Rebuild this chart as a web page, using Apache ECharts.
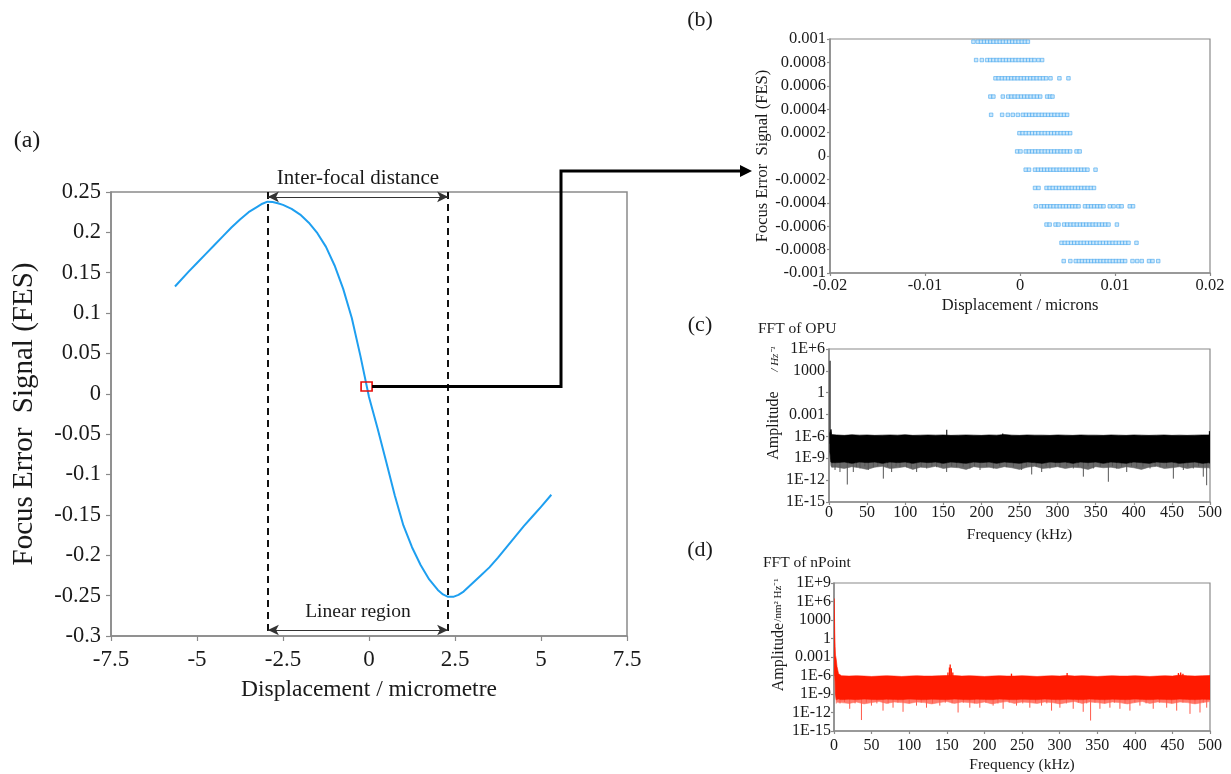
<!DOCTYPE html>
<html>
<head>
<meta charset="utf-8">
<script src="https://cdn.jsdelivr.net/npm/echarts@6/dist/echarts.min.js"></script>
<style>
html,body{margin:0;padding:0;background:#fff;}
#main{width:1231px;height:774px;}
</style>
</head>
<body>
<div id="main"></div>
<script>
// ---------- Panel (a): FES curve ----------
const curveX = [-5.64, -5.25, -5.0, -4.75, -4.5, -4.25, -4.0, -3.75, -3.5, -3.25, -3.1, -2.95, -2.8, -2.65, -2.5, -2.25, -2.0, -1.75, -1.5, -1.25, -1.0, -0.75, -0.5, -0.25, 0, 0.25, 0.5, 0.75, 1.0, 1.25, 1.5, 1.75, 2.0, 2.15, 2.3, 2.45, 2.6, 2.75, 3.0, 3.25, 3.5, 3.75, 4.0, 4.25, 4.5, 4.75, 5.0, 5.3];
const curveY = [0.133, 0.151, 0.162, 0.173, 0.184, 0.195, 0.206, 0.216, 0.225, 0.2315, 0.2355, 0.238, 0.2375, 0.236, 0.234, 0.229, 0.222, 0.212, 0.199, 0.182, 0.159, 0.13, 0.094, 0.047, -0.004, -0.043, -0.084, -0.126, -0.163, -0.19, -0.212, -0.23, -0.243, -0.2485, -0.2515, -0.2515, -0.249, -0.245, -0.235, -0.225, -0.215, -0.203, -0.19, -0.177, -0.164, -0.152, -0.14, -0.125];
const peakX = -2.94, valleyX = 2.3;
const zoomPoint = [-0.07, 0.009];

// ---------- Panel (b): FES vs displacement (zoomed) ----------
const fesLevels = [0.000977, 0.00082, 0.000664, 0.000508, 0.000352, 0.000195, 0.000039, -0.000117, -0.000273, -0.00043, -0.000586, -0.000742, -0.000898];
const dispRows = [
  [-0.0049, -0.00444, -0.00411, -0.00378, -0.00345, -0.00312, -0.00279, -0.00246, -0.00213, -0.0018, -0.00147, -0.00114, -0.00081, -0.00048, -0.00015, 0.00018, 0.00051, 0.00083],
  [-0.00462, -0.00402, -0.00346, -0.00313, -0.0028, -0.00246, -0.00213, -0.0018, -0.00147, -0.00114, -0.0008, -0.00047, -0.00014, 0.00019, 0.00052, 0.00086, 0.00119, 0.00152, 0.00194, 0.00233],
  [-0.00258, -0.00225, -0.00191, -0.00158, -0.00125, -0.00091, -0.00058, -0.00025, 0.00009, 0.00042, 0.00075, 0.00109, 0.00142, 0.00175, 0.00209, 0.00242, 0.00275, 0.00321, 0.00415, 0.0051],
  [-0.00312, -0.0028, -0.00181, -0.00124, -0.0009, -0.00056, -0.00023, 0.00011, 0.00045, 0.00078, 0.00112, 0.00146, 0.00179, 0.00213, 0.00286, 0.00316, 0.00342],
  [-0.00304, -0.00188, -0.00128, -0.00076, -0.00023, 0.0003, 0.00063, 0.00097, 0.0013, 0.00163, 0.00197, 0.0023, 0.00263, 0.00296, 0.0033, 0.00363, 0.00396, 0.0043, 0.00463, 0.00496],
  [-0.00006, 0.00027, 0.00061, 0.00094, 0.00128, 0.00161, 0.00194, 0.00228, 0.00261, 0.00294, 0.00328, 0.00361, 0.00394, 0.00428, 0.00461, 0.00495, 0.00528],
  [-0.0003, 0.00005, 0.00061, 0.00094, 0.00128, 0.00161, 0.00194, 0.00228, 0.00261, 0.00294, 0.00328, 0.00361, 0.00394, 0.00428, 0.00461, 0.00494, 0.00528, 0.00595, 0.00628],
  [0.0006, 0.00095, 0.00158, 0.0019, 0.00223, 0.00255, 0.00288, 0.0032, 0.00353, 0.00385, 0.00418, 0.0045, 0.00483, 0.00515, 0.00548, 0.0058, 0.00613, 0.00645, 0.00678, 0.0071, 0.00795],
  [0.00158, 0.00195, 0.00279, 0.00312, 0.00345, 0.00379, 0.00412, 0.00445, 0.00479, 0.00512, 0.00545, 0.00579, 0.00612, 0.00645, 0.00679, 0.00712, 0.00745, 0.00779],
  [0.00166, 0.00221, 0.00254, 0.00287, 0.0032, 0.00353, 0.00386, 0.00419, 0.00452, 0.00485, 0.00518, 0.00551, 0.00584, 0.00616, 0.00684, 0.00716, 0.00749, 0.00781, 0.00814, 0.00846, 0.00879, 0.00945, 0.00985, 0.01035, 0.0107, 0.01155, 0.0119],
  [0.00279, 0.00312, 0.00374, 0.00405, 0.00465, 0.00498, 0.00532, 0.00565, 0.00598, 0.00632, 0.00665, 0.00698, 0.00732, 0.00765, 0.00798, 0.00832, 0.00865, 0.00898, 0.00932, 0.0102],
  [0.00437, 0.00471, 0.00504, 0.00538, 0.00571, 0.00605, 0.00639, 0.00672, 0.00706, 0.0074, 0.00773, 0.00807, 0.0084, 0.00874, 0.00908, 0.00941, 0.00975, 0.01008, 0.01042, 0.01075, 0.01109, 0.01142, 0.01226],
  [0.0046, 0.0053, 0.00587, 0.0062, 0.00652, 0.00685, 0.00717, 0.0075, 0.00782, 0.00815, 0.00847, 0.0088, 0.00912, 0.00945, 0.00977, 0.0101, 0.01042, 0.01075, 0.01107, 0.01184, 0.01234, 0.01282, 0.01358, 0.01395, 0.01455]
];

// ---------- Panel (c): FFT of OPU (noise band envelopes + spikes) ----------
const opuFreq = [1, 2.5, 3.5,
  10, 20, 30, 40, 50, 60, 70, 80, 90, 100,
  110, 120, 130, 140, 150, 160, 170, 180, 190, 200,
  210, 220, 230, 240, 250, 260, 270, 280, 290, 300,
  310, 320, 330, 340, 350, 360, 370, 380, 390, 400,
  410, 420, 430, 440, 450, 460, 470, 480, 490,
  499, 500];
const opuTop = [3e-6, 8e-6, 1.8e-6,
  1.6e-6, 1.4e-6, 1.7e-6, 1.5e-6, 1.6e-6, 1.4e-6, 1.5e-6, 1.6e-6, 1.5e-6, 1.7e-6,
  1.4e-6, 1.5e-6, 1.6e-6, 1.5e-6, 1.6e-6, 1.4e-6, 1.5e-6, 1.6e-6, 1.5e-6, 1.4e-6,
  1.6e-6, 1.5e-6, 1.8e-6, 1.5e-6, 1.4e-6, 1.6e-6, 1.5e-6, 1.5e-6, 1.4e-6, 1.6e-6,
  1.5e-6, 1.4e-6, 1.6e-6, 1.5e-6, 1.5e-6, 1.4e-6, 1.6e-6, 1.5e-6, 1.4e-6, 1.6e-6,
  1.5e-6, 1.4e-6, 1.5e-6, 1.6e-6, 1.4e-6, 1.5e-6, 1.4e-6, 1.5e-6, 1.6e-6,
  1.6e-6, 4e-6];
const opuBot = [1e-8, 3e-10, 2.5e-10,
  2.5e-10, 3e-10, 2e-10, 3e-10, 2.5e-10, 3e-10, 2e-10, 3e-10, 2.5e-10, 3e-10,
  2e-10, 3e-10, 2.5e-10, 3e-10, 2e-10, 3e-10, 2.5e-10, 2e-10, 3e-10, 2.5e-10,
  3e-10, 2e-10, 3e-10, 2.5e-10, 2e-10, 3e-10, 2.5e-10, 2e-10, 3e-10, 2.5e-10,
  3e-10, 2e-10, 3e-10, 2.5e-10, 3e-10, 2e-10, 3e-10, 2.5e-10, 2e-10, 3e-10,
  2.5e-10, 2e-10, 3e-10, 2.5e-10, 3e-10, 2e-10, 2.5e-10, 3e-10, 2e-10,
  2.5e-10, 2e-10];
const opuFringe = [1e-8, 1e-10, 6e-11,
  6e-11, 4e-11, 7e-11, 5e-11, 3e-11, 6e-11, 8e-11, 4e-11, 5e-11, 7e-11,
  3e-11, 6e-11, 5e-11, 8e-11, 4e-11, 6e-11, 5e-11, 3e-11, 7e-11, 5e-11,
  6e-11, 4e-11, 7e-11, 5e-11, 3e-11, 6e-11, 8e-11, 4e-11, 5e-11, 7e-11,
  4e-11, 6e-11, 5e-11, 3e-11, 7e-11, 5e-11, 6e-11, 4e-11, 7e-11, 5e-11,
  3e-11, 6e-11, 8e-11, 4e-11, 5e-11, 7e-11, 4e-11, 6e-11, 5e-11,
  5e-11, 4e-11];
const opuDownSpikes = [[4, 6e-11], [7.9, 2.5e-11], [14.4, 1.3e-11], [24, 2.5e-13], [31.9, 1.3e-11], [36, 6e-11], [40.7, 4e-11], [47, 8e-11], [51.6, 2.5e-11], [58.2, 6e-11], [64, 8e-11], [71.3, 1.6e-12], [77, 7e-11], [82.2, 1.3e-11], [88, 8e-11], [93.2, 6e-11], [101.9, 6e-11], [108, 5e-11], [115, 1.3e-11], [121, 7e-11], [128.2, 4e-11], [135, 8e-11], [141.3, 6e-11], [148, 7e-11], [154.4, 1.3e-11], [161, 8e-11], [167.5, 6e-11], [176, 7e-11], [185, 4e-11], [191, 8e-11], [198.2, 2.5e-11], [207, 7e-11], [215.7, 4e-11], [224, 8e-11], [233.2, 6e-11], [242, 7e-11], [252.8, 2.5e-11], [259, 8e-11], [266, 6e-12], [272, 7e-11], [279.1, 1.3e-11], [285, 8e-11], [290, 4e-11], [297, 7e-11], [303.1, 6e-11], [312, 8e-11], [320.6, 4e-11], [327, 7e-11], [333.8, 3e-12], [340, 8e-11], [346.9, 4e-11], [356, 7e-11], [366.6, 6e-13], [372, 8e-11], [377.5, 4e-11], [384, 7e-11], [390.7, 1.3e-11], [397, 8e-11], [403.8, 6e-11], [412, 7e-11], [421.3, 4e-11], [428, 8e-11], [434.4, 6e-11], [443, 7e-11], [451.9, 1.6e-12], [458, 8e-11], [465, 2.5e-11], [471, 7e-11], [478.1, 4e-11], [485, 8e-11], [491.2, 3e-12], [495.6, 2e-13]];
const opuUpSpikes = [[1.4, 2.5e4], [2.6, 1e-5], [154.5, 8e-6], [228, 2.5e-6], [499.3, 5.5e-6]];

// ---------- Panel (d): FFT of nPoint ----------
const npFreq = [0.2, 0.6, 1, 1.5, 2, 3, 4, 6, 10, 20,
  30, 40, 50, 60, 70, 80, 90, 100, 110, 120,
  130, 140, 150, 160, 170, 180, 190, 200, 210, 220,
  230, 240, 250, 260, 270, 280, 290, 300, 310, 320,
  330, 340, 350, 360, 370, 380, 390, 400, 410, 420,
  430, 440, 450, 460, 470, 480, 490, 500];
const npTop = [3e6, 1e4, 10, 5e-2, 2e-3, 4e-4, 3e-5, 2e-6, 9e-7, 8e-7,
  9e-7, 8e-7, 7e-7, 8e-7, 9e-7, 8e-7, 7e-7, 8e-7, 9e-7, 8e-7,
  8e-7, 9e-7, 1e-6, 1e-6, 8e-7, 9e-7, 8e-7, 7e-7, 8e-7, 9e-7,
  8e-7, 8e-7, 9e-7, 8e-7, 7e-7, 8e-7, 9e-7, 8e-7, 1e-6, 8e-7,
  9e-7, 8e-7, 7e-7, 8e-7, 9e-7, 8e-7, 8e-7, 9e-7, 8e-7, 7e-7,
  8e-7, 9e-7, 8e-7, 1.2e-6, 9e-7, 8e-7, 9e-7, 1e-6];
const npBot = [1e-5, 1e-6, 1e-6, 1e-7, 1e-9, 1.2e-10, 1.3e-10, 1.5e-10, 1.2e-10, 1.4e-10,
  1.2e-10, 1.5e-10, 1.3e-10, 1.2e-10, 1.4e-10, 1.3e-10, 1.2e-10, 1.5e-10, 1.3e-10, 1.2e-10,
  1.4e-10, 1.3e-10, 1.2e-10, 1.5e-10, 1.3e-10, 1.2e-10, 1.4e-10, 1.3e-10, 1.2e-10, 1.5e-10,
  1.3e-10, 1.2e-10, 1.4e-10, 1.3e-10, 1.2e-10, 1.5e-10, 1.3e-10, 1.2e-10, 1.4e-10, 1.3e-10,
  1.2e-10, 1.5e-10, 1.3e-10, 1.2e-10, 1.4e-10, 1.3e-10, 1.2e-10, 1.5e-10, 1.3e-10, 1.2e-10,
  1.4e-10, 1.3e-10, 1.2e-10, 1.5e-10, 1.3e-10, 1.2e-10, 1.4e-10, 1.3e-10];
const npFringe = [1e-5, 1e-6, 1e-6, 1e-7, 1e-9, 3e-11, 5e-11, 4e-11, 4e-11, 3e-11,
  5e-11, 2.5e-11, 4e-11, 6e-11, 3e-11, 5e-11, 4e-11, 3e-11, 5e-11, 4e-11,
  2.5e-11, 4e-11, 6e-11, 3e-11, 5e-11, 4e-11, 3e-11, 5e-11, 2.5e-11, 4e-11,
  6e-11, 3e-11, 5e-11, 4e-11, 3e-11, 5e-11, 4e-11, 2.5e-11, 4e-11, 6e-11,
  3e-11, 5e-11, 4e-11, 3e-11, 5e-11, 4e-11, 2.5e-11, 4e-11, 6e-11, 3e-11,
  5e-11, 4e-11, 3e-11, 5e-11, 4e-11, 2.5e-11, 4e-11, 6e-11];
const npDownSpikes = [[8, 3e-11], [14, 5e-11], [20.9, 4e-12], [28, 3e-11], [36.5, 6e-14], [43, 4e-11], [49.8, 1.3e-11], [57, 3e-11], [65.2, 2e-12], [72, 3e-11], [78.5, 6e-12], [85, 4e-11], [91.8, 1.3e-12], [100, 3e-11], [109.7, 1.3e-11], [116, 4e-11], [123, 6e-12], [131, 3e-11], [140.7, 1.3e-11], [148, 4e-11], [157, 3e-11], [165, 1e-12], [172, 4e-11], [180.6, 6e-12], [187, 3e-11], [193.9, 6e-12], [202, 4e-11], [211.6, 1.3e-11], [218, 3e-11], [224.9, 4e-12], [233, 4e-11], [242.7, 1.3e-11], [251, 3e-11], [260.4, 6e-12], [268, 4e-11], [276, 1.3e-11], [283, 3e-11], [289.3, 2e-12], [295, 4e-11], [300.4, 6e-12], [309, 3e-11], [318.1, 4e-12], [325, 4e-11], [331.4, 1.3e-12], [336, 3e-11], [341.2, 5e-14], [347, 4e-11], [353.6, 4e-12], [360, 3e-11], [366.9, 6e-12], [373, 4e-11], [380.2, 4e-12], [387, 3e-11], [393.5, 2e-12], [400, 4e-11], [406.8, 1.3e-11], [415, 3e-11], [424.5, 4e-12], [433, 4e-11], [442.4, 6e-12], [449, 3e-11], [455.7, 2e-12], [464, 4e-11], [473.4, 6e-13], [480, 3e-11], [486.7, 1e-12], [491, 4e-11], [495.6, 6e-12]];
const npUpSpikes = [[151.5, 3e-6], [153.5, 2e-5], [154.5, 6e-5], [156, 1.5e-5], [158, 3e-6], [310, 2.5e-6], [236, 2e-6], [458, 2.5e-6], [461, 3e-6], [464, 2e-6]];

// ---------- Tick labels ----------
const opuTickExp = [-15, -12, -9, -6, -3, 0, 3, 6];
const opuTickText = ['1E-15', '1E-12', '1E-9', '1E-6', '0.001', '1', '1000', '1E+6'];
const npTickExp = [-15, -12, -9, -6, -3, 0, 3, 6, 9];
const npTickText = ['1E-15', '1E-12', '1E-9', '1E-6', '0.001', '1', '1000', '1E+6', '1E+9'];

// ---------- Chart ----------
const FONT = "'Liberation Serif','Times New Roman',serif";
const TXT = '#1a1a1a';
const GRAY = '#8a8a8a';
const chart = echarts.init(document.getElementById('main'), null, {renderer: 'canvas'});

function logFmt(exps, texts) {
  return function (v) {
    const e = Math.round(Math.log10(v));
    const i = exps.indexOf(e);
    return i >= 0 ? texts[i] : '';
  };
}
function axisBase(tickLen) {
  return {
    axisLine: {show: true, onZero: false, lineStyle: {color: GRAY, width: 1.5}},
    axisTick: {show: true, inside: false, length: tickLen, lineStyle: {color: GRAY, width: 1.2}},
    splitLine: {show: false}
  };
}
function bandRender(freq, top, bot, fill) {
  return function (params, api) {
    const pts = [];
    for (let i = 0; i < freq.length; i++) pts.push(api.coord([freq[i], top[i]]));
    for (let i = freq.length - 1; i >= 0; i--) pts.push(api.coord([freq[i], bot[i]]));
    return {type: 'polygon', shape: {points: pts}, style: {fill: fill, stroke: fill, lineWidth: 0.6}};
  };
}
function spikeRender(base, color, w) {
  return function (params, api) {
    const a = api.coord([api.value(0), base]);
    const b = api.coord([api.value(0), api.value(1)]);
    return {type: 'line', shape: {x1: a[0], y1: a[1], x2: b[0], y2: b[1]}, style: {stroke: color, lineWidth: w}};
  };
}

const curveData = curveX.map((x, i) => [x, curveY[i]]);
const scatterData = [];
dispRows.forEach((row, r) => row.forEach(x => scatterData.push([x, fesLevels[r]])));

const option = {
  animation: false,
  backgroundColor: '#fff',
  textStyle: {fontFamily: FONT, color: TXT},
  grid: [
    {left: 111, top: 192, width: 516, height: 444, show: true, borderColor: GRAY, borderWidth: 1.5, backgroundColor: 'transparent'},
    {left: 830, top: 39, width: 380, height: 234, show: true, borderColor: GRAY, borderWidth: 1.2, backgroundColor: 'transparent'},
    {left: 829, top: 349, width: 381, height: 153, show: true, borderColor: GRAY, borderWidth: 1.2, backgroundColor: 'transparent'},
    {left: 834, top: 583, width: 376, height: 149, show: true, borderColor: GRAY, borderWidth: 1.2, backgroundColor: 'transparent'}
  ],
  xAxis: [
    Object.assign(axisBase(5), {gridIndex: 0, type: 'value', min: -7.5, max: 7.5, interval: 2.5,
      axisLabel: {fontFamily: FONT, fontSize: 23, color: TXT, margin: 12},
      name: 'Displacement / micrometre', nameLocation: 'middle', nameGap: 42,
      nameTextStyle: {fontFamily: FONT, fontSize: 23.5, color: TXT}}),
    Object.assign(axisBase(3), {gridIndex: 1, type: 'value', min: -0.02, max: 0.02, interval: 0.01,
      axisLabel: {fontFamily: FONT, fontSize: 16.5, color: TXT, margin: 4},
      name: 'Displacement / microns', nameLocation: 'middle', nameGap: 24,
      nameTextStyle: {fontFamily: FONT, fontSize: 16.5, color: TXT}}),
    Object.assign(axisBase(3), {gridIndex: 2, type: 'value', min: 0, max: 500, interval: 50,
      axisLabel: {fontFamily: FONT, fontSize: 16, color: TXT, margin: 3},
      name: 'Frequency (kHz)', nameLocation: 'middle', nameGap: 25,
      nameTextStyle: {fontFamily: FONT, fontSize: 15.5, color: TXT}}),
    Object.assign(axisBase(3), {gridIndex: 3, type: 'value', min: 0, max: 500, interval: 50,
      axisLabel: {fontFamily: FONT, fontSize: 16, color: TXT, margin: 7},
      name: 'Frequency (kHz)', nameLocation: 'middle', nameGap: 26,
      nameTextStyle: {fontFamily: FONT, fontSize: 15.5, color: TXT}})
  ],
  yAxis: [
    Object.assign(axisBase(5), {gridIndex: 0, type: 'value', min: -0.3, max: 0.25, interval: 0.05,
      axisLabel: {fontFamily: FONT, fontSize: 22.5, color: TXT, margin: 10},
      name: 'Focus Error  Signal (FES)', nameLocation: 'middle', nameGap: 72,
      nameTextStyle: {fontFamily: FONT, fontSize: 29, color: TXT}}),
    Object.assign(axisBase(3), {gridIndex: 1, type: 'value', min: -0.001, max: 0.001, interval: 0.0002,
      axisLabel: {fontFamily: FONT, fontSize: 16.5, color: TXT, margin: 4},
      name: 'Focus Error  Signal (FES)', nameLocation: 'middle', nameGap: 56,
      nameTextStyle: {fontFamily: FONT, fontSize: 16.5, color: TXT}}),
    Object.assign(axisBase(3), {gridIndex: 2, type: 'log', logBase: 1000, min: 1e-15, max: 1e6, splitNumber: 8,
      axisLabel: {fontFamily: FONT, fontSize: 16, color: TXT, margin: 4, formatter: logFmt(opuTickExp, opuTickText)},
      minorTick: {show: false},
      name: 'Amplitude', nameLocation: 'middle', nameGap: 47,
      nameTextStyle: {fontFamily: FONT, fontSize: 16, color: TXT}}),
    Object.assign(axisBase(3), {gridIndex: 3, type: 'log', logBase: 1000, min: 1e-15, max: 1e9, splitNumber: 9,
      axisLabel: {fontFamily: FONT, fontSize: 16, color: TXT, margin: 3, formatter: logFmt(npTickExp, npTickText)},
      minorTick: {show: false},
      name: 'Amplitude', nameLocation: 'middle', nameGap: 47,
      nameTextStyle: {fontFamily: FONT, fontSize: 16, color: TXT}})
  ],
  series: [
    {
      type: 'line', xAxisIndex: 0, yAxisIndex: 0, data: curveData, smooth: false, showSymbol: false,
      lineStyle: {color: '#1e9ff0', width: 2, join: 'round'}, z: 3,
      markLine: {
        silent: true, symbol: 'none', animation: false,
        lineStyle: {color: '#111', width: 2, type: [7, 5]},
        label: {show: false},
        data: [
          [{coord: [peakX, 0.25]}, {coord: [peakX, -0.3]}],
          [{coord: [valleyX, 0.25]}, {coord: [valleyX, -0.3]}],
          [{coord: [peakX, 0.244], symbol: 'arrow', symbolSize: [8, 11],
            lineStyle: {type: 'solid', width: 1, color: '#333'},
            label: {show: true, position: 'insideMiddleTop', distance: 8, formatter: 'Inter-focal distance', fontFamily: FONT, fontSize: 21, color: TXT}},
           {coord: [valleyX, 0.244], symbol: 'arrow', symbolSize: [8, 11]}],
          [{coord: [peakX, -0.2926], symbol: 'arrow', symbolSize: [8, 11],
            lineStyle: {type: 'solid', width: 1, color: '#333'},
            label: {show: true, position: 'insideMiddleTop', distance: 8, formatter: 'Linear region', fontFamily: FONT, fontSize: 19.5, color: TXT}},
           {coord: [valleyX, -0.2926], symbol: 'arrow', symbolSize: [8, 11]}]
        ]
      },
      markPoint: {
        silent: true, symbol: 'rect', symbolSize: [11, 9], label: {show: false},
        itemStyle: {color: 'rgba(255,255,255,0)', borderColor: '#e8100c', borderWidth: 1.5},
        data: [{coord: zoomPoint}]
      }
    },
    {
      type: 'scatter', xAxisIndex: 1, yAxisIndex: 1, data: scatterData, symbol: 'rect', symbolSize: 3.5,
      itemStyle: {color: '#bfe2fa', borderColor: '#4aa9ef', borderWidth: 0.8}
    },
    {
      type: 'custom', xAxisIndex: 2, yAxisIndex: 2, data: [[250, 1e-8]], clip: true,
      renderItem: bandRender(opuFreq, opuBot, opuFringe, '#6a6a6a'), z: 2
    },
    {
      type: 'custom', xAxisIndex: 2, yAxisIndex: 2, data: [[250, 1e-8]], clip: true,
      renderItem: bandRender(opuFreq, opuTop, opuBot, '#000'), z: 3
    },
    {
      type: 'custom', xAxisIndex: 2, yAxisIndex: 2, data: opuDownSpikes, clip: true,
      renderItem: spikeRender(1e-9, '#555', 1), z: 2
    },
    {
      type: 'custom', xAxisIndex: 2, yAxisIndex: 2, data: opuUpSpikes, clip: true,
      renderItem: spikeRender(1e-7, '#222', 1.2), z: 2
    },
    {
      type: 'custom', xAxisIndex: 3, yAxisIndex: 3, data: [[250, 1e-8]], clip: true,
      renderItem: bandRender(npFreq, npBot, npFringe, '#ff7a6c'), z: 2
    },
    {
      type: 'custom', xAxisIndex: 3, yAxisIndex: 3, data: [[250, 1e-8]], clip: true,
      renderItem: bandRender(npFreq, npTop, npBot, '#ff1a00'), z: 3
    },
    {
      type: 'custom', xAxisIndex: 3, yAxisIndex: 3, data: npDownSpikes, clip: true,
      renderItem: spikeRender(1e-9, '#ff5a4a', 1), z: 2
    },
    {
      type: 'custom', xAxisIndex: 3, yAxisIndex: 3, data: npUpSpikes, clip: true,
      renderItem: spikeRender(1e-7, '#ff1a00', 1.3), z: 2
    }
  ]
};
chart.setOption(option);

// Annotation graphics (labels + connector from the red box to panel b)
const p = chart.convertToPixel({xAxisIndex: 0, yAxisIndex: 0}, zoomPoint);
const gTxt = (t, x, y, size) => ({
  type: 'text', silent: true,
  style: {text: t, x: x, y: y, font: size + 'px ' + FONT, fill: TXT, align: 'center', verticalAlign: 'middle'}
});
chart.setOption({
  graphic: [
    gTxt('(a)', 27, 141, 24),
    gTxt('(b)', 700, 20, 22),
    gTxt('(c)', 700, 325, 22),
    gTxt('(d)', 700, 550, 22),
    {type: 'text', silent: true, style: {text: 'FFT of OPU', x: 758, y: 329, font: '15.5px ' + FONT, fill: TXT, align: 'left', verticalAlign: 'middle'}},
    {type: 'text', silent: true, style: {text: 'FFT of nPoint', x: 763, y: 563, font: '15.5px ' + FONT, fill: TXT, align: 'left', verticalAlign: 'middle'}},
    {type: 'text', silent: true, x: 775, y: 359, rotation: Math.PI / 2,
     style: {text: '/ Hz\u207B\u00B9', x: 0, y: 0, font: 'italic 11px ' + FONT, fill: TXT, align: 'center', verticalAlign: 'middle'}},
    {type: 'text', silent: true, x: 778, y: 600, rotation: Math.PI / 2,
     style: {text: '/nm\u00B2 Hz\u207B\u00B9', x: 0, y: 0, font: '11px ' + FONT, fill: TXT, align: 'center', verticalAlign: 'middle'}},
    {type: 'polyline', silent: true, z: 10,
     shape: {points: [[p[0] + 5.5, p[1]], [561, p[1]], [561, 171], [742, 171]]},
     style: {stroke: '#000', lineWidth: 3, fill: null}},
    {type: 'polygon', silent: true, z: 10,
     shape: {points: [[740, 165], [752, 171], [740, 177]]},
     style: {fill: '#000'}}
  ]
});
</script>
</body>
</html>
